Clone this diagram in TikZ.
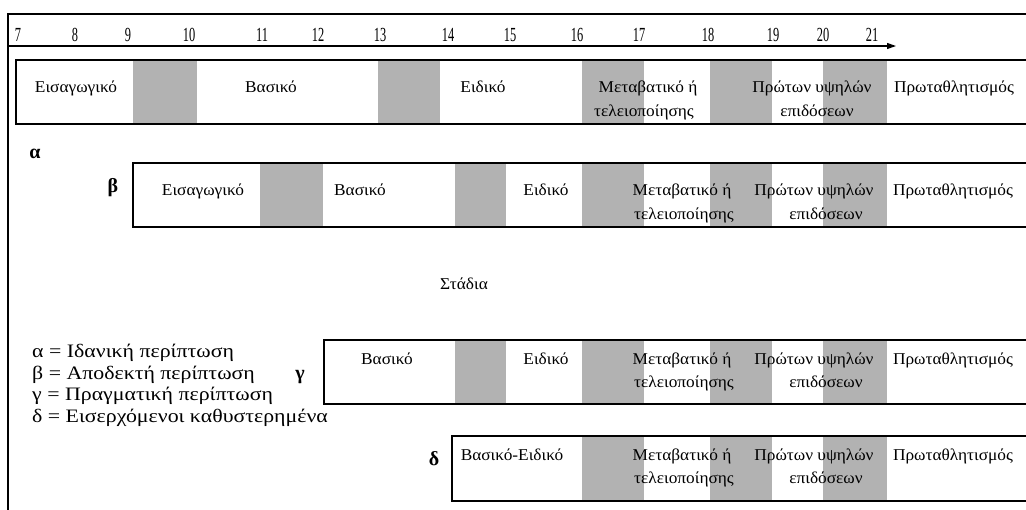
\documentclass[tikz,border=0pt]{standalone}
\usepackage{fontspec}
\setmainfont{Liberation Serif}
\newfontfamily\boxfont{Liberation Serif}[FakeStretch=1.05]
\newfontfamily\keyfont{Liberation Serif}[FakeStretch=1.15]
\newfontfamily\digfont{Liberation Serif}[FakeStretch=0.62]
\usetikzlibrary{arrows.meta}
\begin{document}
\begin{tikzpicture}[x=1pt,y=-1pt,
  frame/.style={line width=2pt},
  bar/.style={line width=1.1pt},
  shade/.style={fill=black!30},
  lbl/.style={font=\boxfont\fontsize{16.5}{16.5}\selectfont, anchor=base, inner sep=0pt},
  tick/.style={font=\digfont\fontsize{20}{20}\selectfont, anchor=base, inner sep=0pt},
  key/.style={font=\keyfont\fontsize{19}{19}\selectfont, anchor=base west, inner sep=0pt},
  tag/.style={font=\fontsize{20}{20}\selectfont\bfseries, anchor=base, inner sep=0pt}]
\useasboundingbox (0,0) rectangle (1026,509);
\clip (0,0) rectangle (1026,509);

% outer frame
\coordinate (fl) at (8,14);
\draw[frame] (8,520) -- (fl) -- (1040,14);

% age axis
\coordinate (ax0) at (8,46);
\coordinate (ax1) at (896,46);
\draw[bar,-{Triangle[length=9pt,width=6pt]}] (ax0) -- (ax1);
\foreach \v/\x in {7/18,8/75,9/128,10/189,11/262,12/318,13/380,14/448,15/510,16/577,17/639,18/708,19/773,20/823,21/872}
  \node[tick] (age\v) at (\x,41) {\v};

% row alpha
\foreach \a/\b in {133/197,378/440,582/644,710/772,823/887}
  \fill[shade] (\a,60) rectangle (\b,124);
\draw[bar] (16,60) rectangle (1040,124);
\node[lbl] (a1) at (76,92) {Εισαγωγικό};
\node[lbl] (a2) at (271,92) {Βασικό};
\node[lbl] (a3) at (483,92) {Ειδικό};
\node[lbl] (a4) at (648,92) {Μεταβατικό ή};
\node[lbl] (a4b) at (644,116) {τελειοποίησης};
\node[lbl] (a5) at (812,92) {Πρώτων υψηλών};
\node[lbl] (a5b) at (817,116) {επιδόσεων};
\node[lbl] (a6) at (954,92) {Πρωταθλητισμός};
\node[tag] (ta) at (35,158) {α};

% row beta
\foreach \a/\b in {260/323,455/506,582/644,710/772,823/887}
  \fill[shade] (\a,163) rectangle (\b,227);
\draw[bar] (133,163) rectangle (1040,227);
\node[lbl] (b1) at (203,195) {Εισαγωγικό};
\node[lbl] (b2) at (360,195) {Βασικό};
\node[lbl] (b3) at (546,195) {Ειδικό};
\node[lbl] (b4) at (682,195) {Μεταβατικό ή};
\node[lbl] (b4b) at (684,219) {τελειοποίησης};
\node[lbl] (b5) at (814,195) {Πρώτων υψηλών};
\node[lbl] (b5b) at (826,219) {επιδόσεων};
\node[lbl] (b6) at (953,195) {Πρωταθλητισμός};
\node[tag] (tb) at (113,192) {β};

\node[lbl] (stages) at (464,289) {Στάδια};

% row gamma
\foreach \a/\b in {455/506,582/644,710/772,823/887}
  \fill[shade] (\a,340) rectangle (\b,404);
\draw[bar] (324,340) rectangle (1040,404);
\node[lbl] (c2) at (387,364) {Βασικό};
\node[lbl] (c3) at (546,364) {Ειδικό};
\node[lbl] (c4) at (682,364) {Μεταβατικό ή};
\node[lbl] (c4b) at (684,387) {τελειοποίησης};
\node[lbl] (c5) at (814,364) {Πρώτων υψηλών};
\node[lbl] (c5b) at (826,387) {επιδόσεων};
\node[lbl] (c6) at (953,364) {Πρωταθλητισμός};
\node[tag] (tc) at (300,379) {γ};

% row delta
\foreach \a/\b in {582/644,710/772,823/887}
  \fill[shade] (\a,436) rectangle (\b,501);
\draw[bar] (452,436) rectangle (1040,501);
\node[lbl] (d1) at (512,460) {Βασικό-Ειδικό};
\node[lbl] (d4) at (682,460) {Μεταβατικό ή};
\node[lbl] (d4b) at (684,483) {τελειοποίησης};
\node[lbl] (d5) at (814,460) {Πρώτων υψηλών};
\node[lbl] (d5b) at (826,483) {επιδόσεων};
\node[lbl] (d6) at (953,460) {Πρωταθλητισμός};
\node[tag] (td) at (434,465) {δ};

% key
\node[key] (k1) at (32,357) {α = Ιδανική περίπτωση};
\node[key] (k2) at (32,379) {β = Αποδεκτή περίπτωση};
\node[key] (k3) at (32,400) {γ = Πραγματική περίπτωση};
\node[key] (k4) at (32,422) {δ = Εισερχόμενοι καθυστερημένα};
\end{tikzpicture}
\end{document}
